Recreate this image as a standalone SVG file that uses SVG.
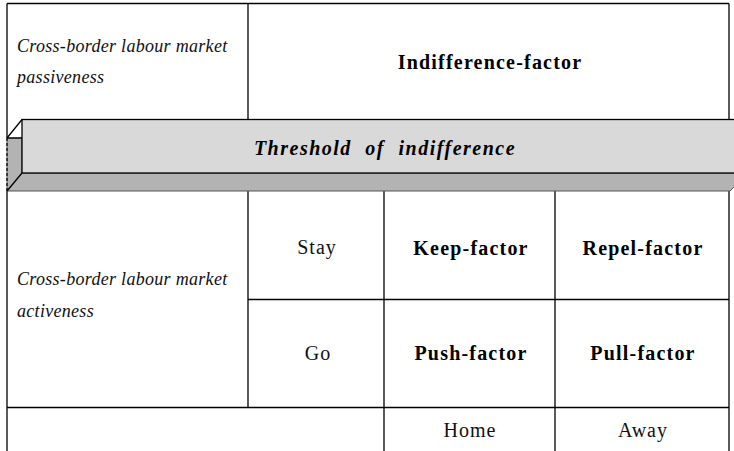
<svg xmlns="http://www.w3.org/2000/svg" width="734" height="451" viewBox="0 0 734 451">
<style>
.ln{stroke:#000;stroke-width:1.3;fill:none}
.it{font-family:"Liberation Serif","Times New Roman",serif;font-style:italic;font-size:18px;letter-spacing:0.3px;fill:#111}
.bd{font-family:"Liberation Serif","Times New Roman",serif;font-weight:bold;font-size:20px;letter-spacing:1.2px;fill:#000;text-anchor:middle}
.rg{font-family:"Liberation Serif","Times New Roman",serif;font-size:20px;letter-spacing:1px;fill:#111;text-anchor:middle}
.th{font-family:"Liberation Serif","Times New Roman",serif;font-weight:bold;font-style:italic;font-size:20px;letter-spacing:1.5px;word-spacing:7px;fill:#000;text-anchor:middle}
</style>
<rect width="734" height="451" fill="#fff"/>
<g id="connectors">
<line class="ln" x1="7" y1="3.5" x2="729" y2="3.5"/>
<line class="ln" x1="7" y1="3.5" x2="7" y2="138"/>
<line class="ln" x1="729" y1="3.5" x2="729" y2="119"/>
<line class="ln" x1="248" y1="3.5" x2="248" y2="119"/>
<line class="ln" x1="7" y1="191" x2="7" y2="451"/>
<line class="ln" x1="729" y1="191" x2="729" y2="451"/>
<line class="ln" x1="248" y1="191" x2="248" y2="407"/>
<line class="ln" x1="384" y1="191" x2="384" y2="451"/>
<line class="ln" x1="555" y1="191" x2="555" y2="451"/>
<line class="ln" x1="248" y1="299.5" x2="729" y2="299.5"/>
<line class="ln" x1="7" y1="407.5" x2="729" y2="407.5"/>
</g>
<g id="threshold">
<polygon points="7,138 22,138 22,173 748,173 730,191 7,191" fill="#b3b3b3" stroke="#555" stroke-width="1"/>
<rect x="22" y="119.5" width="720" height="53.5" fill="#d9d9d9" stroke="#000" stroke-width="1.3"/>
<line class="ln" x1="7" y1="138" x2="22" y2="119.5"/>
<line class="ln" x1="7" y1="138" x2="22" y2="138"/>
<line class="ln" x1="7" y1="191" x2="22" y2="173"/>
<line x1="7" y1="138" x2="7" y2="191" stroke="#000" stroke-width="1.2" stroke-dasharray="3,2"/>
<text class="th" x="385" y="155">Threshold of indifference</text>
</g>
<g id="passiveness">
<text class="it" x="17" y="52">Cross-border labour market</text>
<text class="it" x="17" y="83">passiveness</text>
</g>
<g id="indifference-factor">
<text class="bd" x="490" y="69">Indifference-factor</text>
</g>
<g id="activeness">
<text class="it" x="17" y="285">Cross-border labour market</text>
<text class="it" x="17" y="317">activeness</text>
</g>
<g id="stay"><text class="rg" x="317" y="254">Stay</text></g>
<g id="go"><text class="rg" x="318" y="360">Go</text></g>
<g id="keep-factor"><text class="bd" x="471" y="255">Keep-factor</text></g>
<g id="repel-factor"><text class="bd" x="643" y="255">Repel-factor</text></g>
<g id="push-factor"><text class="bd" x="471" y="360">Push-factor</text></g>
<g id="pull-factor"><text class="bd" x="643" y="360">Pull-factor</text></g>
<g id="home"><text class="rg" x="470" y="437">Home</text></g>
<g id="away"><text class="rg" x="643" y="437">Away</text></g>
</svg>
